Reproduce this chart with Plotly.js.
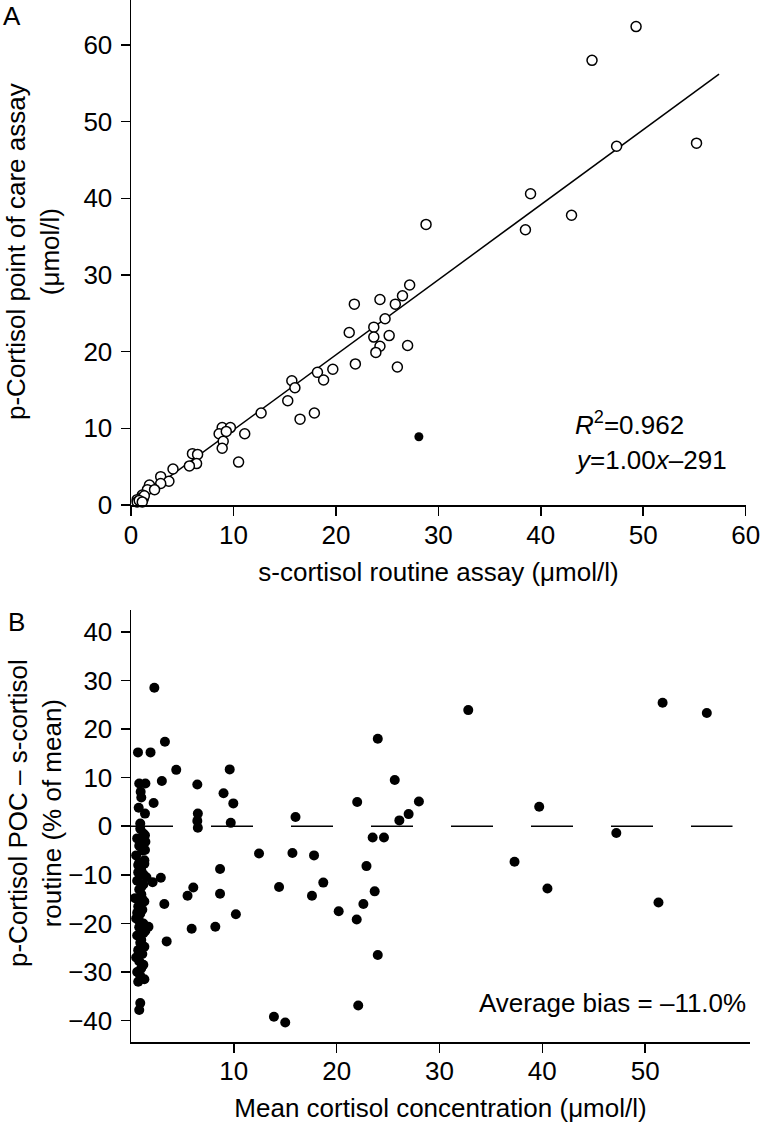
<!DOCTYPE html>
<html>
<head>
<meta charset="utf-8">
<script src="https://cdn.plot.ly/plotly-3.0.1.min.js"></script>
<style>html,body{margin:0;padding:0;background:#fff;}#chart{width:760px;height:1127px;}</style>
</head>
<body>
<div id="chart"></div>
<script>
// ---------- Panel A: s-cortisol (routine) vs p-cortisol (POC), µmol/l ----------
const aX = [49.3,45.0,47.4,55.2,39.0,38.5,43.0,28.8,27.2,26.5,
  21.8,24.3,25.8,21.3,23.7,24.8,23.7,25.2,24.3,23.9,21.9,26.0,27.0,
  15.7,16.0,18.2,18.8,19.7,15.3,12.7,16.5,17.9,
  8.9,9.7,8.6,9.3,11.1,9.0,8.9,10.5,
  6.0,6.5,6.4,5.7,4.1,2.9,3.7,2.9,2.1,1.8,1.6,2.3,
  1.1,1.0,0.6,1.2,0.9,0.6,1.3,0.8,1.1];
const aY = [62.4,58.0,46.8,47.2,40.6,35.9,37.8,36.6,28.7,27.3,
  26.2,26.8,26.2,22.5,23.2,24.3,21.9,22.1,20.7,19.9,18.4,18.0,20.8,
  16.2,15.3,17.3,16.3,17.7,13.6,12.0,11.2,12.0,
  10.1,10.1,9.3,9.6,9.3,8.3,7.4,5.6,
  6.7,6.6,5.4,5.1,4.7,3.7,3.1,2.8,2.2,2.6,2.0,2.0,
  1.3,0.9,0.7,0.8,0.5,0.4,1.2,0.6,0.4];
const aOutlierX = [28.1];
const aOutlierY = [8.9];
const fitX = [0.3, 57.4];
const fitY = [0.3, 56.2];
const aXTicks = [0,10,20,30,40,50,60];
const aYTicks = [0,10,20,30,40,50,60];

// ---------- Panel B: difference (% of mean) vs mean cortisol ----------
const bX = [2.27,3.3,0.68,1.9,4.4,3.0,0.8,1.4,0.94,1.0,2.2,0.75,1.36,0.9,
  6.45,6.5,6.45,6.5,9.6,9.0,9.95,9.7,16.0,
  12.45,15.7,8.66,2.9,2.1,6.06,5.5,8.66,14.4,3.24,10.2,1.7,5.9,8.2,3.47,13.9,15.0,
  24.0,25.65,22.0,28.0,27.0,26.1,23.5,24.6,17.8,18.7,17.6,22.9,23.7,22.6,20.2,21.95,24.0,22.1,
  37.3,39.7,40.5,47.2,51.3,32.8,51.7,56.0,
  0.9,1.2,0.6,1.4,0.8,1.1,0.5,1.3,0.7,1.0,0.9,1.5,0.6,1.2,0.8,1.0,0.4,1.3,0.7,1.1,
  0.9,0.5,1.2,0.8,1.4,0.6,1.0,0.9,1.3,0.7,1.1,0.5,0.8,1.2,1.0,0.6,0.9,1.3,0.7,1.1,
  0.8,1.0,0.6,1.2,0.9,0.7,1.1,0.8,0.9,0.8,1.36,1.36,1.3,1.2];
const bY = [28.5,17.4,15.2,15.2,11.6,9.3,8.8,8.8,7.1,5.9,4.8,3.8,2.6,0.55,
  8.6,2.6,1.1,-0.3,11.7,6.8,4.7,0.7,1.9,
  -5.6,-5.5,-8.8,-10.6,-11.5,-12.6,-14.3,-13.9,-12.5,-16.0,-18.1,-20.7,-21.1,-20.7,-23.7,-39.2,-40.4,
  18.0,9.5,5.0,5.1,2.5,1.2,-2.3,-2.3,-6.0,-11.6,-14.3,-8.2,-13.4,-16.0,-17.5,-19.2,-26.5,-36.9,
  -7.3,4.0,-12.8,-1.4,-15.7,23.9,25.4,23.3,
  -0.5,-1.5,-2.5,-3.2,-4.0,-5.0,-6.0,-7.0,-8.0,-9.0,-10.0,-10.5,-11.2,-12.0,-13.0,-14.0,-14.8,-15.5,-16.5,-17.2,
  -18.0,-19.0,-20.0,-20.8,-21.5,-22.5,-23.4,-24.0,-24.8,-25.5,-26.3,-27.0,-27.8,-28.5,-29.2,-30.0,-30.8,-31.5,-32.0,-3.5,
  -7.5,-12.5,-17.8,-22.0,-26.0,-9.5,-15.0,-19.5,-36.4,-37.8,-1.85,-4.9,-7.7,-9.9];
const zeroX = [0, 58.5];
const zeroY = [0, 0];
const bXTicks = [10,20,30,40,50];
const bYTicks = [-40,-30,-20,-10,0,10,20,30,40];

const FONT = '"Liberation Sans", Arial, Helvetica, sans-serif';
const W = 760, H = 1127, ML = 131, MR = 10, MT = 0, MB = 85;
const PW = W - ML - MR, PH = H - MT - MB;
const px2fx = p => (p - ML) / PW;
const py2fy = p => (PH - (p - MT)) / PH;

function axis(extra) {
  return Object.assign({
    showgrid: false, zeroline: false, showline: true, linecolor: '#000', linewidth: 1.5,
    ticks: 'outside', ticklen: 9, tickwidth: 1.5, tickcolor: '#000',
    tickfont: {family: FONT, size: 26, color: '#000'}, ticklabeloverflow: 'allow',
    tickmode: 'array', fixedrange: true
  }, extra);
}

const traces = [
  {x: fitX, y: fitY, xaxis: 'x', yaxis: 'y', mode: 'lines', line: {color: '#000', width: 1.5}, hoverinfo: 'skip'},
  {x: aX, y: aY, xaxis: 'x', yaxis: 'y', mode: 'markers', cliponaxis: false,
   marker: {symbol: 'circle', size: 10, color: '#fff', line: {color: '#000', width: 1.5}}},
  {x: aOutlierX, y: aOutlierY, xaxis: 'x', yaxis: 'y', mode: 'markers', cliponaxis: false,
   marker: {symbol: 'circle', size: 9, color: '#000'}},
  {x: zeroX, y: zeroY, xaxis: 'x2', yaxis: 'y2', mode: 'lines', line: {color: '#000', width: 1.5, dash: '42px,38px'}, hoverinfo: 'skip'},
  {x: bX, y: bY, xaxis: 'x2', yaxis: 'y2', mode: 'markers', cliponaxis: false,
   marker: {symbol: 'circle', size: 10, color: '#000'}}
];

const layout = {
  width: W, height: H, margin: {l: ML, r: MR, t: MT, b: MB},
  paper_bgcolor: '#fff', plot_bgcolor: '#fff', showlegend: false,
  font: {family: FONT, color: '#000', size: 26},
  xaxis: axis({
    domain: [0, (746 - ML) / PW], range: [0, 60.03], anchor: 'y',
    tickvals: aXTicks, ticklabelstandoff: -3,
    title: {text: 's-cortisol routine assay (\u03bcmol/l)', font: {family: FONT, size: 26, color: '#000'}, standoff: 14}
  }),
  yaxis: axis({
    domain: [py2fy(505), 1], range: [0, 65.87], anchor: 'x',
    tickvals: aYTicks, ticklabelstandoff: 3
  }),
  xaxis2: axis({
    domain: [0, 1], range: [0, 60.2], anchor: 'y2',
    tickvals: bXTicks, ticklabelstandoff: -4,
    title: {text: 'Mean cortisol concentration (\u03bcmol/l)', font: {family: FONT, size: 26, color: '#000'}, standoff: 14}
  }),
  yaxis2: axis({
    domain: [0, py2fy(610)], range: [-44.4, 44.5], anchor: 'x2',
    tickvals: bYTicks, ticklabelstandoff: 3
  }),
  annotations: [
    {text: 'A', xref: 'paper', yref: 'paper', x: px2fx(1), y: py2fy(16), xanchor: 'left', yanchor: 'middle', showarrow: false, font: {family: FONT, size: 26, color: '#000'}},
    {text: 'B', xref: 'paper', yref: 'paper', x: px2fx(6), y: py2fy(622), xanchor: 'left', yanchor: 'middle', showarrow: false, font: {family: FONT, size: 26, color: '#000'}},
    {text: 'p-Cortisol point of care assay<br>(\u03bcmol/l)', xref: 'paper', yref: 'paper', x: px2fx(33), y: py2fy(252), xanchor: 'center', yanchor: 'middle', textangle: -90, showarrow: false, font: {family: FONT, size: 26, color: '#000'}},
    {text: 'p-Cortisol POC \u2013 s-cortisol<br>routine (% of mean)', xref: 'paper', yref: 'paper', x: px2fx(35), y: py2fy(813), xanchor: 'center', yanchor: 'middle', textangle: -90, showarrow: false, font: {family: FONT, size: 26, color: '#000'}},
    {text: '<i>R</i><sup>2</sup>=0.962', xref: 'x', yref: 'y', x: 43.1, y: 10.6, xanchor: 'left', yanchor: 'middle', showarrow: false, font: {family: FONT, size: 26, color: '#000'}},
    {text: '<i>y</i>=1.00<i>x</i>\u2013291', xref: 'x', yref: 'y', x: 43.1, y: 5.9, xanchor: 'left', yanchor: 'middle', showarrow: false, font: {family: FONT, size: 26, color: '#000'}},
    {text: 'Average bias = \u201311.0%', xref: 'x2', yref: 'y2', x: 60.0, y: -36.4, xanchor: 'right', yanchor: 'middle', showarrow: false, font: {family: FONT, size: 26, color: '#000'}}
  ]
};

Plotly.newPlot('chart', traces, layout, {staticPlot: true, displayModeBar: false});
</script>
</body>
</html>
